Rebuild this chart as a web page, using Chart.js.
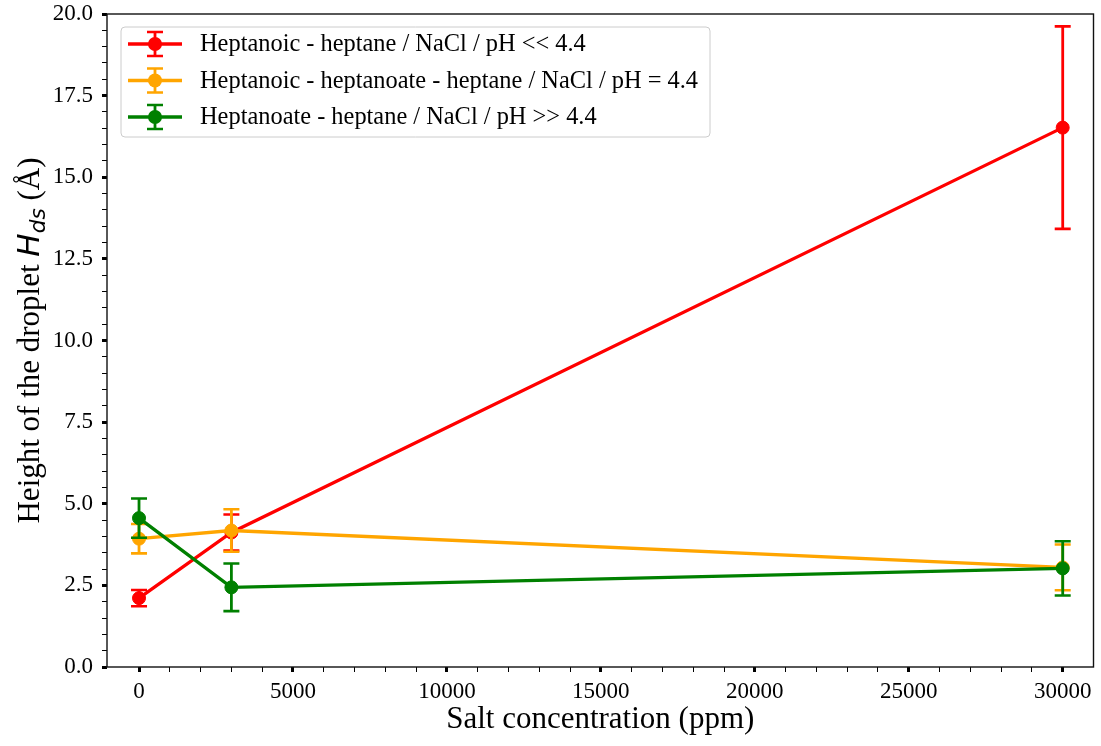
<!DOCTYPE html>
<html><head><meta charset="utf-8">
<script src="https://cdn.jsdelivr.net/npm/chart.js@4.4.1/dist/chart.umd.min.js"></script>
<style>html,body{margin:0;padding:0;background:#fff;} canvas{display:block;}</style>
</head><body>
<canvas id="c" width="1101" height="746"></canvas>
<script>
// ---- data ----
const saltPpm = [0, 3000, 30000];
const acidHeight = [2.11, 4.12, 16.52];
const acidErr = [0.25, 0.55, 3.10];
const mixedHeight = [3.93, 4.18, 3.05];
const mixedErr = [0.45, 0.65, 0.70];
const baseHeight = [4.56, 2.44, 3.02];
const baseErr = [0.60, 0.73, 0.83];
const seriesNames = [
  'Heptanoic - heptane / NaCl / pH << 4.4',
  'Heptanoic - heptanoate - heptane / NaCl / pH = 4.4',
  'Heptanoate - heptane / NaCl / pH >> 4.4'
];
const seriesColors = ['#ff0000', '#ffa500', '#008000'];
const xMajorTicks = [0, 5000, 10000, 15000, 20000, 25000, 30000];
const yMajorTicks = [0, 2.5, 5, 7.5, 10, 12.5, 15, 17.5, 20];
const xMinorStep = 1000;
const yMinorStep = 0.5;
const xTitle = 'Salt concentration (ppm)';
const yTitleParts = ['Height of the droplet ', 'H', 'ds', ' (Å)'];

const SERIF = "'Liberation Serif', 'Times New Roman', serif";
const SANS = "'DejaVu Sans', sans-serif";

function isMajor(v, list) { return list.some(m => Math.abs(m - v) < 1e-9); }
function minorList(list, step) {
  const out = [];
  const lo = list[0], hi = list[list.length - 1];
  const n = Math.round((hi - lo) / step);
  for (let i = 0; i <= n; i++) out.push(+(lo + i * step).toFixed(6));
  return out;
}

const heights = [acidHeight, mixedHeight, baseHeight];
const errs = [acidErr, mixedErr, baseErr];
const datasets = seriesNames.map((name, k) => ({
  label: name,
  data: saltPpm.map((x, i) => ({ x: x, y: heights[k][i] })),
  errorBars: errs[k],
  borderColor: seriesColors[k],
  backgroundColor: seriesColors[k],
  pointBackgroundColor: seriesColors[k],
  pointBorderColor: seriesColors[k],
  borderWidth: 3.3,
  pointRadius: 6.5,
  pointBorderWidth: 1,
  tension: 0,
  order: 3 - k
}));

const errorBarPlugin = {
  id: 'errorBars',
  afterDatasetDraw(chart, args) {
    const ds = chart.data.datasets[args.index];
    const xs = chart.scales.x, ys = chart.scales.y;
    const ctx = chart.ctx;
    ctx.save();
    ctx.strokeStyle = ds.borderColor;
    ds.data.forEach((p, i) => {
      const e = ds.errorBars[i];
      const px = xs.getPixelForValue(p.x);
      const yT = ys.getPixelForValue(p.y + e);
      const yB = ys.getPixelForValue(p.y - e);
      ctx.lineWidth = 2.8;
      ctx.beginPath(); ctx.moveTo(px, yT); ctx.lineTo(px, yB); ctx.stroke();
      ctx.lineWidth = 2.6;
      ctx.beginPath();
      ctx.moveTo(px - 8, yT); ctx.lineTo(px + 8, yT);
      ctx.moveTo(px - 8, yB); ctx.lineTo(px + 8, yB);
      ctx.stroke();
    });
    ctx.restore();
  }
};

const decorPlugin = {
  id: 'decor',
  afterDraw(chart) {
    const ctx = chart.ctx;
    const a = chart.chartArea;
    ctx.save();
    // frame
    ctx.strokeStyle = '#111';
    ctx.lineWidth = 1.4;
    ctx.strokeRect(a.left, a.top, a.right - a.left, a.bottom - a.top);

    // y title (mixed fonts)
    const big = 31, sub = 21.7;
    const fonts = [
      big + 'px ' + SERIF,
      'italic ' + big + 'px ' + SANS,
      'italic ' + sub + 'px ' + SANS,
      big + 'px ' + SERIF
    ];
    const widths = yTitleParts.map((t, i) => { ctx.font = fonts[i]; return ctx.measureText(t).width; });
    const total = widths.reduce((s, w) => s + w, 0);
    ctx.translate(39, (a.top + a.bottom) / 2);
    ctx.rotate(-Math.PI / 2);
    ctx.fillStyle = '#000';
    ctx.textBaseline = 'alphabetic';
    ctx.textAlign = 'left';
    let cx = -total / 2;
    yTitleParts.forEach((t, i) => {
      ctx.font = fonts[i];
      ctx.fillText(t, cx, i === 2 ? 6 : 0);
      cx += widths[i];
    });
    ctx.restore();

    // legend
    ctx.save();
    const bx = 121, by = 27, bw = 589, bh = 110;
    ctx.fillStyle = 'rgba(255,255,255,0.85)';
    ctx.strokeStyle = '#cccccc';
    ctx.lineWidth = 1;
    ctx.beginPath();
    ctx.roundRect(bx, by, bw, bh, 4);
    ctx.fill(); ctx.stroke();
    const rowY = [44, 80.5, 117];
    chart.data.datasets.forEach((ds, k) => {
      const y = rowY[k];
      ctx.strokeStyle = ds.borderColor;
      ctx.fillStyle = ds.borderColor;
      ctx.lineWidth = 3.3;
      ctx.beginPath(); ctx.moveTo(128, y); ctx.lineTo(182, y); ctx.stroke();
      ctx.lineWidth = 2.8;
      ctx.beginPath(); ctx.moveTo(155, y - 12); ctx.lineTo(155, y + 12); ctx.stroke();
      ctx.lineWidth = 2.6;
      ctx.beginPath();
      ctx.moveTo(147, y - 12); ctx.lineTo(163, y - 12);
      ctx.moveTo(147, y + 12); ctx.lineTo(163, y + 12);
      ctx.stroke();
      ctx.beginPath(); ctx.arc(155, y, 7, 0, Math.PI * 2); ctx.fill();
      ctx.fillStyle = '#000';
      ctx.font = '24.4px ' + SERIF;
      ctx.textBaseline = 'middle';
      ctx.textAlign = 'left';
      ctx.fillText(ds.label, 200, y + 1);
    });
    ctx.restore();
  }
};

Chart.defaults.color = '#000';
Chart.defaults.font.family = SERIF;

new Chart(document.getElementById('c'), {
  type: 'line',
  data: { datasets: datasets },
  options: {
    responsive: false,
    animation: false,
    devicePixelRatio: 1,
    layout: { padding: { left: 0, top: 14, right: 7, bottom: 0 } },
    plugins: { legend: { display: false }, tooltip: { enabled: false } },
    scales: {
      x: {
        type: 'linear',
        min: -1040,
        max: 31000,
        afterBuildTicks: s => { s.ticks = minorList(xMajorTicks, xMinorStep).map(v => ({ value: v })); },
        afterFit: s => { s.height = 79; s.paddingLeft = 0; s.paddingRight = 0; },
        ticks: {
          autoSkip: false, maxRotation: 0, padding: 6,
          font: { size: 23, family: SERIF },
          callback: v => isMajor(v, xMajorTicks) ? String(v) : ''
        },
        grid: {
          drawOnChartArea: false, drawTicks: true, tickLength: 5,
          color: '#000', tickColor: '#000',
          lineWidth: c => (c.tick && isMajor(c.tick.value, xMajorTicks)) ? 3 : 1,
          tickWidth: c => (c.tick && isMajor(c.tick.value, xMajorTicks)) ? 3 : 1
        },
        border: { display: false },
        title: { display: true, text: xTitle, font: { size: 31, family: SERIF }, padding: { top: 0, bottom: 8 } }
      },
      y: {
        type: 'linear',
        min: 0,
        max: 20,
        afterBuildTicks: s => { s.ticks = minorList(yMajorTicks, yMinorStep).map(v => ({ value: v })); },
        afterFit: s => { s.width = 107; s.paddingTop = 0; s.paddingBottom = 0; },
        ticks: {
          autoSkip: false, padding: 9,
          font: { size: 23, family: SERIF },
          callback: v => isMajor(v, yMajorTicks) ? v.toFixed(1) : ''
        },
        grid: {
          drawOnChartArea: false, drawTicks: true, tickLength: 5,
          color: '#000', tickColor: '#000',
          lineWidth: c => (c.tick && isMajor(c.tick.value, yMajorTicks)) ? 3 : 1,
          tickWidth: c => (c.tick && isMajor(c.tick.value, yMajorTicks)) ? 3 : 1
        },
        border: { display: false }
      }
    }
  },
  plugins: [errorBarPlugin, decorPlugin]
});
</script>
</body></html>
